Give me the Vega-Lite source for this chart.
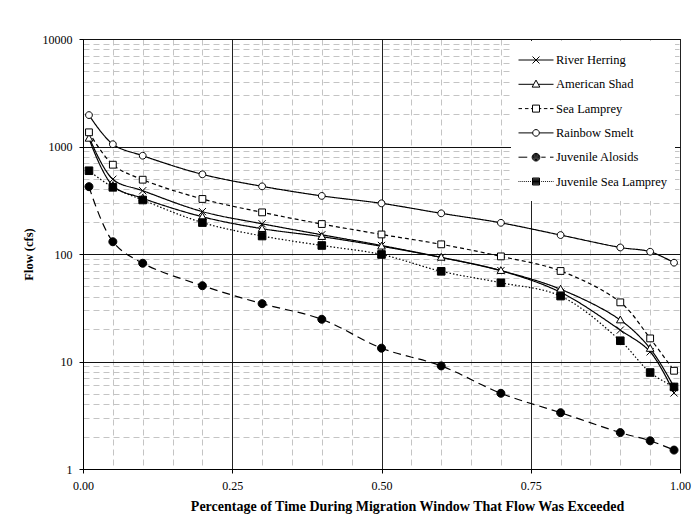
{
  "$schema": "https://vega.github.io/schema/vega-lite/v6.json",
  "width": 597,
  "height": 430,
  "autosize": "none",
  "padding": {"left": 83, "top": 39, "right": 15, "bottom": 56},
  "background": "white",
  "data": {"name": "fish"},
  "datasets": {
    "fish": [
      {"x": 0.01, "s": "River Herring", "y": 1230},
      {"x": 0.05, "s": "River Herring", "y": 496},
      {"x": 0.10, "s": "River Herring", "y": 388},
      {"x": 0.20, "s": "River Herring", "y": 248},
      {"x": 0.30, "s": "River Herring", "y": 191},
      {"x": 0.40, "s": "River Herring", "y": 151},
      {"x": 0.50, "s": "River Herring", "y": 120},
      {"x": 0.60, "s": "River Herring", "y": 93},
      {"x": 0.70, "s": "River Herring", "y": 70},
      {"x": 0.80, "s": "River Herring", "y": 44},
      {"x": 0.90, "s": "River Herring", "y": 19.6},
      {"x": 0.95, "s": "River Herring", "y": 12.3},
      {"x": 0.99, "s": "River Herring", "y": 5.1},
      {"x": 0.01, "s": "American Shad", "y": 1190},
      {"x": 0.05, "s": "American Shad", "y": 432},
      {"x": 0.10, "s": "American Shad", "y": 330},
      {"x": 0.20, "s": "American Shad", "y": 222},
      {"x": 0.30, "s": "American Shad", "y": 172},
      {"x": 0.40, "s": "American Shad", "y": 145},
      {"x": 0.50, "s": "American Shad", "y": 118},
      {"x": 0.60, "s": "American Shad", "y": 93},
      {"x": 0.70, "s": "American Shad", "y": 70},
      {"x": 0.80, "s": "American Shad", "y": 47},
      {"x": 0.90, "s": "American Shad", "y": 24.3},
      {"x": 0.95, "s": "American Shad", "y": 13.2},
      {"x": 0.99, "s": "American Shad", "y": 5.8},
      {"x": 0.01, "s": "Sea Lamprey", "y": 1355},
      {"x": 0.05, "s": "Sea Lamprey", "y": 677},
      {"x": 0.10, "s": "Sea Lamprey", "y": 491},
      {"x": 0.20, "s": "Sea Lamprey", "y": 325},
      {"x": 0.30, "s": "Sea Lamprey", "y": 244},
      {"x": 0.40, "s": "Sea Lamprey", "y": 190},
      {"x": 0.50, "s": "Sea Lamprey", "y": 152},
      {"x": 0.60, "s": "Sea Lamprey", "y": 123},
      {"x": 0.70, "s": "Sea Lamprey", "y": 95},
      {"x": 0.80, "s": "Sea Lamprey", "y": 69.5},
      {"x": 0.90, "s": "Sea Lamprey", "y": 35.5},
      {"x": 0.95, "s": "Sea Lamprey", "y": 16.4},
      {"x": 0.99, "s": "Sea Lamprey", "y": 8.2},
      {"x": 0.01, "s": "Rainbow Smelt", "y": 1960},
      {"x": 0.05, "s": "Rainbow Smelt", "y": 1050},
      {"x": 0.10, "s": "Rainbow Smelt", "y": 821},
      {"x": 0.20, "s": "Rainbow Smelt", "y": 551},
      {"x": 0.30, "s": "Rainbow Smelt", "y": 426},
      {"x": 0.40, "s": "Rainbow Smelt", "y": 347},
      {"x": 0.50, "s": "Rainbow Smelt", "y": 296},
      {"x": 0.60, "s": "Rainbow Smelt", "y": 239},
      {"x": 0.70, "s": "Rainbow Smelt", "y": 195},
      {"x": 0.80, "s": "Rainbow Smelt", "y": 150},
      {"x": 0.90, "s": "Rainbow Smelt", "y": 115},
      {"x": 0.95, "s": "Rainbow Smelt", "y": 105},
      {"x": 0.99, "s": "Rainbow Smelt", "y": 83},
      {"x": 0.01, "s": "Juvenile Alosids", "y": 423},
      {"x": 0.05, "s": "Juvenile Alosids", "y": 130},
      {"x": 0.10, "s": "Juvenile Alosids", "y": 82},
      {"x": 0.20, "s": "Juvenile Alosids", "y": 50.7},
      {"x": 0.30, "s": "Juvenile Alosids", "y": 34.5},
      {"x": 0.40, "s": "Juvenile Alosids", "y": 24.7},
      {"x": 0.50, "s": "Juvenile Alosids", "y": 13.3},
      {"x": 0.60, "s": "Juvenile Alosids", "y": 9.1},
      {"x": 0.70, "s": "Juvenile Alosids", "y": 5.06},
      {"x": 0.80, "s": "Juvenile Alosids", "y": 3.34},
      {"x": 0.90, "s": "Juvenile Alosids", "y": 2.18},
      {"x": 0.95, "s": "Juvenile Alosids", "y": 1.83},
      {"x": 0.99, "s": "Juvenile Alosids", "y": 1.5},
      {"x": 0.01, "s": "Juvenile Sea Lamprey", "y": 595},
      {"x": 0.05, "s": "Juvenile Sea Lamprey", "y": 417},
      {"x": 0.10, "s": "Juvenile Sea Lamprey", "y": 318},
      {"x": 0.20, "s": "Juvenile Sea Lamprey", "y": 196},
      {"x": 0.30, "s": "Juvenile Sea Lamprey", "y": 147},
      {"x": 0.40, "s": "Juvenile Sea Lamprey", "y": 120},
      {"x": 0.50, "s": "Juvenile Sea Lamprey", "y": 99},
      {"x": 0.60, "s": "Juvenile Sea Lamprey", "y": 69},
      {"x": 0.70, "s": "Juvenile Sea Lamprey", "y": 54},
      {"x": 0.80, "s": "Juvenile Sea Lamprey", "y": 40.6},
      {"x": 0.90, "s": "Juvenile Sea Lamprey", "y": 15.6},
      {"x": 0.95, "s": "Juvenile Sea Lamprey", "y": 7.9},
      {"x": 0.99, "s": "Juvenile Sea Lamprey", "y": 5.8}
    ]
  },
  "layer": [
    {
      "mark": {"type": "line", "interpolate": "catmull-rom", "stroke": "black", "clip": true},
      "encoding": {
        "x": {
          "field": "x", "type": "quantitative",
          "scale": {"domain": [0, 1], "nice": false, "zero": false},
          "axis": {
            "orient": "bottom",
            "values": [0, 0.25, 0.5, 0.75, 1],
            "format": ".2f",
            "labelFlush": false,
            "grid": true, "gridColor": "#222", "gridWidth": 1,
            "tickSize": 4, "labelPadding": 7,
            "title": "Percentage of Time During Migration Window That Flow Was Exceeded",
            "titleFontSize": 14,
            "titleX": 324,
            "titlePadding": 8
          }
        },
        "y": {
          "field": "y", "type": "quantitative",
          "scale": {"type": "log", "domain": [1, 10000], "nice": false},
          "axis": {
            "orient": "left",
            "values": [1, 10, 100, 1000, 10000],
            "format": "d",
            "labelFlush": false,
            "grid": true, "gridColor": "#111", "gridWidth": 1,
            "tickSize": 4, "labelPadding": 7,
            "title": "Flow (cfs)",
            "titleFontSize": 12.5,
            "titlePadding": 7
          }
        },
        "strokeDash": {
          "field": "s", "type": "nominal",
          "scale": {
            "domain": ["River Herring", "American Shad", "Sea Lamprey", "Rainbow Smelt", "Juvenile Alosids", "Juvenile Sea Lamprey"],
            "range": [[1, 0], [1, 0], [4, 3], [1, 0], [8, 5], [1.5, 2]]
          },
          "legend": null
        },
        "strokeWidth": {
          "field": "s", "type": "nominal",
          "scale": {
            "domain": ["River Herring", "American Shad", "Sea Lamprey", "Rainbow Smelt", "Juvenile Alosids", "Juvenile Sea Lamprey"],
            "range": [1.2, 1.2, 1, 1.2, 1.2, 1.4]
          },
          "legend": null
        }
      }
    },
    {
      "mark": {"type": "point", "filled": false, "stroke": "black", "strokeWidth": 1, "opacity": 1, "size": 64},
      "encoding": {
        "x": {
          "field": "x", "type": "quantitative",
          "axis": {
            "orient": "bottom",
            "values": [0.05, 0.1, 0.15, 0.2, 0.3, 0.35, 0.4, 0.45, 0.55, 0.6, 0.65, 0.7, 0.8, 0.85, 0.9, 0.95],
            "grid": true, "gridColor": "#c4c4c4", "gridDash": [6, 4], "gridWidth": 1,
            "ticks": false, "labels": false, "domain": false, "title": null
          }
        },
        "y": {
          "field": "y", "type": "quantitative",
          "axis": {
            "orient": "left",
            "values": [2, 3, 4, 5, 6, 7, 8, 9, 20, 30, 40, 50, 60, 70, 80, 90, 200, 300, 400, 500, 600, 700, 800, 900, 2000, 3000, 4000, 5000, 6000, 7000, 8000, 9000],
            "grid": true, "gridColor": "#c4c4c4", "gridDash": [6, 4], "gridWidth": 1,
            "ticks": false, "labels": false, "domain": false, "title": null
          }
        },
        "shape": {
          "field": "s", "type": "nominal",
          "scale": {
            "domain": ["River Herring", "American Shad", "Sea Lamprey", "Rainbow Smelt", "Juvenile Alosids", "Juvenile Sea Lamprey"],
            "range": [
              "M-0.9,-0.9L0.9,0.9M-0.9,0.9L0.9,-0.9",
              "M0,-1L0.95,0.7L-0.95,0.7Z",
              "M-0.85,-0.85H0.85V0.85H-0.85Z",
              "M-0.85,0A0.85,0.85 0 1,0 0.85,0A0.85,0.85 0 1,0 -0.85,0Z",
              "M-1,0A1,1 0 1,0 1,0A1,1 0 1,0 -1,0Z",
              "M-0.95,-0.95H0.95V0.95H-0.95Z"
            ]
          },
          "legend": null
        },
        "fill": {
          "field": "s", "type": "nominal",
          "scale": {
            "domain": ["River Herring", "American Shad", "Sea Lamprey", "Rainbow Smelt", "Juvenile Alosids", "Juvenile Sea Lamprey"],
            "range": ["white", "white", "white", "white", "black", "black"]
          },
          "legend": null
        }
      }
    },
    {
      "mark": {"type": "point", "opacity": 0, "size": 1},
      "encoding": {
        "x": {"field": "x", "type": "quantitative", "axis": null},
        "y": {"field": "y", "type": "quantitative", "axis": null},
        "shape": {
          "field": "s", "type": "nominal",
          "scale": {
            "domain": ["River Herring", "American Shad", "Sea Lamprey", "Rainbow Smelt", "Juvenile Alosids", "Juvenile Sea Lamprey"],
            "range": [
              "M-1,0H1M-0.2,-0.2L0.2,0.2M-0.2,0.2L0.2,-0.2",
              "M-1,0H-0.13M0.13,0H1M0,-0.24L0.22,0.16L-0.22,0.16Z",
              "M-1,0H-0.8M-0.63,0H-0.43M-0.28,0H-0.2M0.2,0H0.3M0.45,0H0.65M0.8,0H1M-0.2,-0.2H0.2V0.2H-0.2Z",
              "M-1,0H-0.19M0.19,0H1M-0.19,0A0.19,0.19 0 1,0 0.19,0A0.19,0.19 0 1,0 -0.19,0Z",
              "M-1,0H-0.5M0.3,0H0.55M0.8,0H1M-0.22,0A0.22,0.22 0 1,0 0.22,0A0.22,0.22 0 1,0 -0.22,0M-0.18,0A0.18,0.18 0 1,0 0.18,0A0.18,0.18 0 1,0 -0.18,0M-0.14,0A0.14,0.14 0 1,0 0.14,0A0.14,0.14 0 1,0 -0.14,0M-0.1,0A0.1,0.1 0 1,0 0.1,0A0.1,0.1 0 1,0 -0.1,0M-0.06,0A0.06,0.06 0 1,0 0.06,0A0.06,0.06 0 1,0 -0.06,0M-0.03,0H0.03",
              "M-1,0H-0.95M-0.89,0H-0.84M-0.78,0H-0.73M-0.67,0H-0.62M-0.56,0H-0.51M-0.45,0H-0.4M-0.34,0H-0.29M0.3,0H0.35M0.41,0H0.46M0.52,0H0.57M0.63,0H0.68M0.74,0H0.79M0.85,0H0.9M0.96,0H1M-0.2,-0.2H0.2V0.2H-0.2ZM-0.2,-0.15H0.2M-0.2,-0.1H0.2M-0.2,-0.05H0.2M-0.2,0H0.2M-0.2,0.05H0.2M-0.2,0.1H0.2M-0.2,0.15H0.2"
            ]
          },
          "legend": {
            "orient": "none",
            "legendX": 428,
            "legendY": 2,
            "title": null,
            "fillColor": "white",
            "padding": 7,
            "symbolSize": 1225,
            "symbolStrokeWidth": 1,
            "symbolStrokeColor": "black",
            "symbolFillColor": "white",
            "symbolOpacity": 1,
            "labelFont": "Liberation Serif",
            "labelFontSize": 12.5,
            "labelColor": "black",
            "labelOffset": 2,
            "clipHeight": 24,
            "rowPadding": 0.3,
            "labelLimit": 300,
            "encode": {
              "symbols": {
                "update": {
                  "opacity": {"value": 1},
                  "fill": {"value": "white"},
                  "fillOpacity": {"value": 1},
                  "stroke": {"value": "black"},
                  "strokeOpacity": {"value": 1},
                  "strokeWidth": {"value": 1}
                }
              }
            }
          }
        }
      }
    }
  ],
  "resolve": {
    "scale": {"shape": "independent"},
    "axis": {"x": "independent", "y": "independent"},
    "legend": {"shape": "independent"}
  },
  "config": {
    "view": {"stroke": "black", "strokeWidth": 1},
    "axis": {
      "labelFont": "Liberation Serif",
      "titleFont": "Liberation Serif",
      "labelFontSize": 12,
      "titleFontSize": 12,
      "titleFontWeight": "bold",
      "labelColor": "black",
      "titleColor": "black",
      "domainColor": "black",
      "tickColor": "black",
      "domainWidth": 1
    }
  }
}
